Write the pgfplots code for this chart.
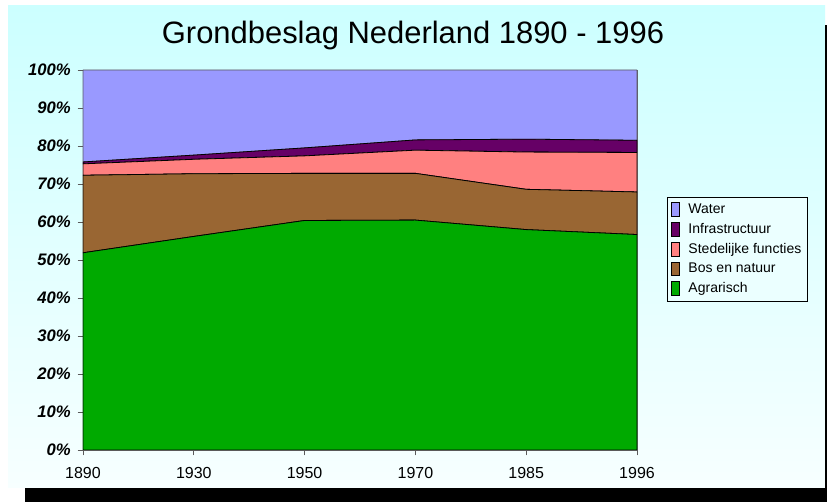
\documentclass[border=0pt]{standalone}
\usepackage{pgfplots}
\pgfplotsset{compat=1.18}
\usepackage{fontspec}
\setmainfont{Liberation Sans}
\definecolor{bgtop}{RGB}{204,255,255}
\definecolor{bgbot}{RGB}{247,255,255}
\definecolor{cwater}{RGB}{153,153,255}
\definecolor{cinfra}{RGB}{102,0,102}
\definecolor{csted}{RGB}{255,128,128}
\definecolor{cbos}{RGB}{153,102,51}
\definecolor{cagr}{RGB}{0,170,0}
\definecolor{frame}{RGB}{90,90,90}
\begin{document}
\begin{tikzpicture}[x=0.75pt,y=0.75pt]
\path[use as bounding box,fill=white] (0,0) rectangle (827,502);
\shade[top color=bgtop,bottom color=bgbot] (8,14) rectangle (825,496);
\fill[black] (25,0) rectangle (827,14);
\fill[black] (825,14) rectangle (827,477);
\node[anchor=base,font=\fontsize{23.2}{26}\selectfont,inner sep=0pt] at (413,458.7) {Grondbeslag Nederland 1890 - 1996};
\begin{axis}[
  at={(62.25pt,39pt)}, anchor=south west,
  width=415.5pt, height=285pt, scale only axis,
  xmin=0, xmax=5, ymin=0, ymax=100,
  stack plots=y,
  axis line style={draw=frame,line width=0.6pt},
  xtick={0,1,2,3,4,5},
  xticklabels={1890,1930,1950,1970,1985,1996},
  ytick={0,10,...,100},
  yticklabels={0\%,10\%,20\%,30\%,40\%,50\%,60\%,70\%,80\%,90\%,100\%},
  tick align=outside, major tick length=4pt,
  tick style={draw=frame,line width=0.6pt},
  xtick pos=bottom, ytick pos=left,
  ticklabel style={inner sep=0pt},
  xticklabel style={font=\fontsize{12}{14}\selectfont, yshift=-8.5pt},
  yticklabel style={font=\fontsize{12.5}{14}\selectfont\bfseries\itshape, xshift=-5pt},
  reverse legend,
  legend cell align=left,
  legend image code/.code={\draw[#1,draw=black,line width=0.5pt] (0pt,-5pt) rectangle (5.8pt,5.3pt);},
  legend style={at={(1.054,0.666)}, anchor=north west, draw=black, line width=0.75pt,
    fill=bgtop!40!white, font=\fontsize{10.5}{12}\selectfont,
    row sep=1.8pt, column sep=4.5pt, inner xsep=3pt, inner ysep=3pt},
]
\addplot[fill=cagr, draw=black, line width=0.6pt] coordinates {(0,51.9) (1,56.2) (2,60.4) (3,60.5) (4,58.0) (5,56.7)} \closedcycle;
\addlegendentry{Agrarisch}
\addplot[fill=cbos, draw=black, line width=0.6pt] coordinates {(0,20.4) (1,16.5) (2,12.4) (3,12.3) (4,10.6) (5,11.2)} \closedcycle;
\addlegendentry{Bos en natuur}
\addplot[fill=csted, draw=black, line width=0.6pt] coordinates {(0,3.0) (1,3.8) (2,4.6) (3,6.1) (4,9.8) (5,10.4)} \closedcycle;
\addlegendentry{Stedelijke functies}
\addplot[fill=cinfra, draw=black, line width=0.6pt] coordinates {(0,0.5) (1,1.1) (2,2.1) (3,2.7) (4,3.4) (5,3.2)} \closedcycle;
\addlegendentry{Infrastructuur}
\addplot[fill=cwater, draw=frame, line width=0.6pt] coordinates {(0,24.2) (1,22.4) (2,20.5) (3,18.4) (4,18.2) (5,18.5)} \closedcycle;
\addlegendentry{Water}
\draw[black,line width=1.5pt] (rel axis cs:0,1) -- (rel axis cs:0,0) -- (rel axis cs:1,0);
\end{axis}
\end{tikzpicture}
\end{document}
